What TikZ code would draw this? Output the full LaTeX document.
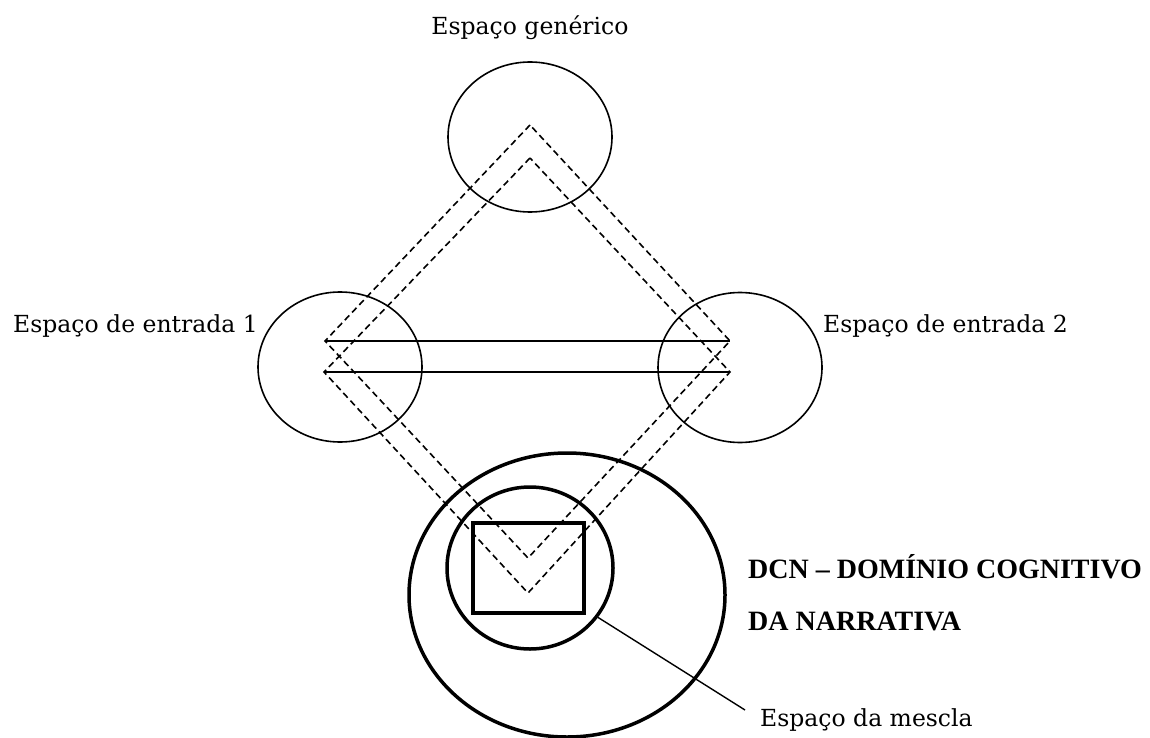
\documentclass[tikz,border=0pt]{standalone}
\usepackage{fontspec}
\setmainfont{DejaVu Serif}
\newfontfamily\titlefont{Liberation Serif}
\usetikzlibrary{shapes.geometric}
\begin{document}
\begin{tikzpicture}[x=1pt,y=-1pt,
  space/.style={ellipse,draw,line width=1.6pt,inner sep=0pt,minimum width=164pt,minimum height=150pt},
  thickspace/.style={ellipse,draw,line width=3.5pt,inner sep=0pt},
  proj/.style={dash pattern=on 6.5pt off 4pt,line width=1.6pt},
  link/.style={line width=1.6pt},
  lbl/.style={inner sep=0pt,font=\fontsize{23.5}{28}\selectfont},
  dcn/.style={inner sep=0pt,anchor=base west,font=\fontsize{28}{32}\titlefont\bfseries}]
\useasboundingbox (0,0) rectangle (1150,738);

% mental spaces
\node[space] (gen) at (530,137) {};
\node[space] (in1) at (340,367) {};
\node[space] (in2) at (740,367.5) {};

% domain of the narrative and the blend
\node[thickspace,minimum width=316pt,minimum height=284pt] (dcn) at (567,595) {};
\node[thickspace,minimum width=166pt,minimum height=162pt] (blend) at (530,568) {};
\node[draw,line width=4.5pt,inner sep=0pt,minimum width=111pt,minimum height=90pt] (frame) at (528.5,568) {};

% projection diamonds
\coordinate (aT) at (530,125);
\coordinate (aL) at (325,341);
\coordinate (aB) at (528,558);
\coordinate (aR) at (730,341);
\coordinate (bT) at (530,158);
\coordinate (bL) at (324,372);
\coordinate (bB) at (528,593);
\coordinate (bR) at (730,372);
\draw[proj] (aT) -- (aL) -- (aB) -- (aR) -- cycle;
\draw[proj] (bT) -- (bL) -- (bB) -- (bR) -- cycle;

% cross-space mappings
\draw[link] (aL) -- (aR);
\draw[link] (bL) -- (bR);

% labels
\node[lbl,anchor=base] (tgen) at (530,35) {Espaço genérico};
\node[lbl,anchor=base west] (tin1) at (13,332) {Espaço de entrada 1};
\node[lbl,anchor=base west] (tin2) at (823,332) {Espaço de entrada 2};
\node[dcn] (tdcn1) at (748,578) {DCN – DOMÍNIO COGNITIVO};
\node[dcn] (tdcn2) at (748,630) {DA NARRATIVA};
\node[lbl,anchor=base west] (tmix) at (760,726) {Espaço da mescla};

% leader to the blend
\coordinate (lead) at (745,710);
\draw[line width=1.4pt] (blend.-36) -- (lead);
\end{tikzpicture}
\end{document}
